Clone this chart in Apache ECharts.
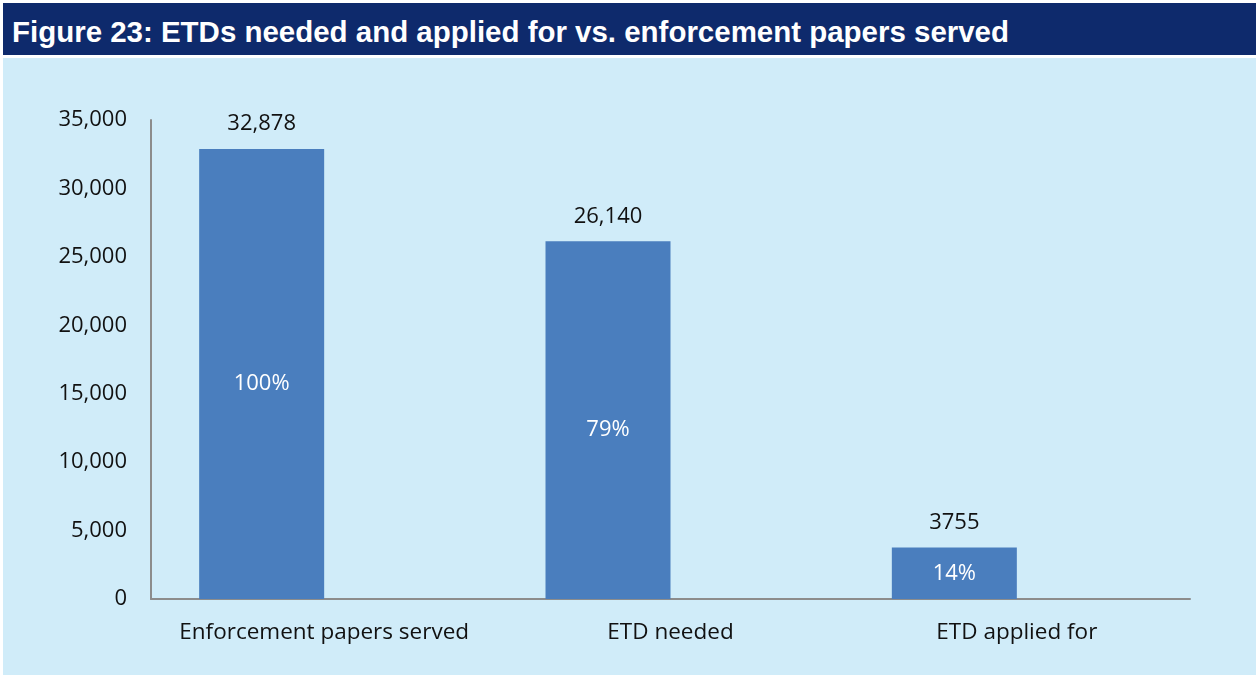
<!DOCTYPE html>
<html>
<head>
<meta charset="utf-8">
<script src="https://cdn.jsdelivr.net/npm/echarts@6/dist/echarts.min.js"></script>
<style>
  html, body { margin: 0; padding: 0; background: #ffffff; width: 1259px; height: 677px; overflow: hidden; }
  #band {
    position: absolute; left: 3px; top: 3px; width: 1253px; height: 52px;
    background: #0e2a6c; overflow: hidden;
  }
  #band span {
    position: absolute; left: 9px; top: 3px; white-space: nowrap; color: #ffffff;
    font-family: "Liberation Sans", Arial, sans-serif; font-weight: bold; font-size: 30px;
    line-height: 52px; transform-origin: 0 50%;
  }
  #panel { position: absolute; left: 3px; top: 58px; width: 1253px; height: 617px; background: #d0ecf9; }
  #chart { position: absolute; left: 0; top: 0; width: 1259px; height: 677px; }
</style>
</head>
<body>
<div id="band"><span id="heading">Figure 23: ETDs needed and applied for vs. enforcement papers served</span></div>
<div id="panel"></div>
<div id="chart"></div>
<script>
// Categories and values
const categories = ['Enforcement papers served', 'ETD needed', 'ETD applied for'];
const counts = [32878, 26140, 3755];
const countLabels = ['32,878', '26,140', '3755'];
const shareLabels = ['100%', '79%', '14%'];
const yTicks = { min: 0, max: 35000, interval: 5000 };

// narrow the heading to a condensed look
const heading = document.getElementById('heading');
heading.style.transform = 'scaleX(' + (997 / heading.getBoundingClientRect().width) + ')';

const FONT = '"Open Sans", Lato, "Noto Sans", sans-serif';

const chart = echarts.init(document.getElementById('chart'), null, { renderer: 'canvas' });
chart.setOption({
  backgroundColor: 'transparent',
  animation: false,
  grid: { left: 151, right: 69, top: 120, bottom: 78, containLabel: false },
  xAxis: {
    type: 'category',
    data: categories,
    axisLine: { lineStyle: { color: '#8c8c8c', width: 2 } },
    axisTick: { show: false },
    axisLabel: { interval: 0, color: '#111', fontFamily: FONT, fontSize: 22.5, margin: 22 }
  },
  yAxis: {
    type: 'value',
    min: yTicks.min, max: yTicks.max, interval: yTicks.interval,
    axisLine: { show: true, lineStyle: { color: '#8c8c8c', width: 2 } },
    axisTick: { show: false },
    splitLine: { show: false },
    axisLabel: {
      color: '#111', fontFamily: FONT, fontSize: 22, margin: 24,
      formatter: v => v.toLocaleString('en-US')
    }
  },
  series: [
    {
      // counts, with share of papers served written inside each bar
      type: 'bar',
      stack: 'main',
      data: counts.map(v => ({ value: v, label: { offset: [0, v > 10000 ? 10 : 0] } })),
      barWidth: 125,
      barGap: 0,
      itemStyle: { color: '#4a7ebe' },
      label: {
        show: true, position: 'inside', color: '#ffffff',
        fontFamily: FONT, fontSize: 22,
        formatter: p => shareLabels[p.dataIndex]
      }
    },
    {
      // zero-height cap carrying the count label above each bar
      type: 'bar',
      stack: 'main',
      data: counts.map(() => 0),
      barWidth: 125,
      barGap: 0,
      itemStyle: { color: 'transparent' },
      label: {
        show: true, position: 'top', distance: 14, color: '#111',
        fontFamily: FONT, fontSize: 22,
        formatter: p => countLabels[p.dataIndex]
      }
    },
    {
      // empty companion column (second slot in each category)
      type: 'bar',
      data: counts.map(() => null),
      barWidth: 125,
      barGap: 0
    }
  ]
});
</script>
</body>
</html>
